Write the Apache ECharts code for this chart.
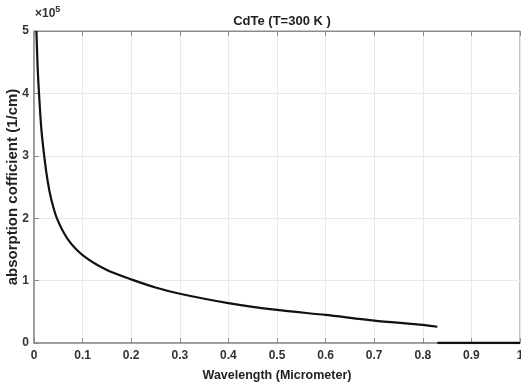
<!DOCTYPE html>
<html>
<head>
<meta charset="utf-8">
<script src="https://cdn.jsdelivr.net/npm/echarts@6/dist/echarts.min.js"></script>
<style>
  html, body { margin: 0; padding: 0; background: #fff; }
  #chart { width: 521px; height: 385px; }
</style>
</head>
<body>
<div id="chart"></div>
<script>
// wavelength (micrometer) and absorption coefficient (1/cm)
const wavelength = [0.005, 0.0075, 0.0103, 0.015, 0.021, 0.028, 0.035, 0.047, 0.069, 0.1, 0.15, 0.2, 0.25, 0.3, 0.4, 0.5, 0.6, 0.7, 0.8, 0.83]
const alpha = [500000, 441000, 400000, 344000, 300000, 260000, 232000, 200000, 167000, 141000, 117000, 102000, 89000, 79000, 64000, 53000, 45000, 36000, 29000, 26000]
// flat part beyond the band edge
const tailWavelength = [0.83, 1.0]
const tailAlpha = [0, 0]

const xTicks = ['0', '0.1', '0.2', '0.3', '0.4', '0.5', '0.6', '0.7', '0.8', '0.9', '1']
const yTicks = ['0', '1', '2', '3', '4', '5']

const font = "'Liberation Sans Narrow', 'Liberation Sans', Arial, sans-serif"
const chart = echarts.init(document.getElementById('chart'), null, { renderer: 'canvas' })

const curve = wavelength.map((w, i) => [w, alpha[i]])
const tail = tailWavelength.map((w, i) => [w, tailAlpha[i]])

const axisGray = '#8a8a8a'
const option = {
  backgroundColor: '#fff',
  animation: false,
  title: {
    text: 'CdTe (T=300 K )',
    left: 277,
    top: 10,
    textAlign: 'center',
    textStyle: { fontFamily: font, fontWeight: 'bold', fontSize: 13, color: '#222' }
  },
  graphic: [
    {
      type: 'text',
      left: 35,
      top: 5,
      style: {
        text: '×10{s|5}',
        fontFamily: font,
        fontSize: 12,
        fontWeight: 'bold',
        fill: '#333',
        rich: { s: { fontSize: 9, fontWeight: 'bold', verticalAlign: 'top', padding: [0, 0, 8, 0], fontFamily: font, fill: '#333' } }
      }
    }
  ],
  grid: {
    left: 34,
    right: 1,
    top: 31,
    bottom: 42,
    outerBoundsMode: 'none',
    containLabel: false,
    show: true,
    borderColor: axisGray,
    borderWidth: 1
  },
  xAxis: [
    {
      type: 'value',
      min: 0,
      max: 1,
      interval: 0.1,
      name: 'Wavelength (Micrometer)',
      nameLocation: 'middle',
      nameGap: 26,
      nameMoveOverlap: false,
      nameTextStyle: { fontFamily: font, fontWeight: 'bold', fontSize: 12.5, color: '#222' },
      axisLine: { show: true, lineStyle: { color: axisGray, width: 1.5 } },
      axisTick: { show: true, inside: true, length: 5, lineStyle: { color: axisGray } },
      axisLabel: {
        fontFamily: font, fontWeight: 'bold', fontSize: 12, color: '#333', margin: 7,
        formatter: (v) => xTicks[Math.round(v * 10)]
      },
      splitLine: { show: true, lineStyle: { color: '#e9e9e9' } }
    },
    {
      type: 'value',
      position: 'top',
      min: 0,
      max: 1,
      interval: 0.1,
      axisLine: { show: true, lineStyle: { color: axisGray } },
      axisTick: { show: true, inside: true, length: 5, lineStyle: { color: axisGray } },
      axisLabel: { show: false },
      splitLine: { show: false }
    }
  ],
  yAxis: {
    type: 'value',
    min: 0,
    max: 500000,
    interval: 100000,
    name: 'absorption cofficient (1/cm)',
    nameLocation: 'middle',
    nameGap: 14,
    nameMoveOverlap: false,
    nameTextStyle: { fontFamily: font, fontWeight: 'bold', fontSize: 15, color: '#222' },
    axisLine: { show: true, lineStyle: { color: axisGray, width: 1.5 } },
    axisTick: { show: true, inside: true, length: 5, lineStyle: { color: axisGray } },
    axisLabel: {
      fontFamily: font, fontWeight: 'bold', fontSize: 12, color: '#333', margin: 5,
      formatter: (v) => yTicks[Math.round(v / 100000)]
    },
    splitLine: { show: true, lineStyle: { color: '#e9e9e9' } }
  },
  series: [
    {
      type: 'line',
      data: curve,
      smooth: 0.25,
      showSymbol: false,
      clip: true,
      lineStyle: { color: '#111', width: 2.2 }
    },
    {
      type: 'line',
      data: tail,
      showSymbol: false,
      lineStyle: { color: '#111', width: 2.5 }
    }
  ]
}

chart.setOption(option)
</script>
</body>
</html>
